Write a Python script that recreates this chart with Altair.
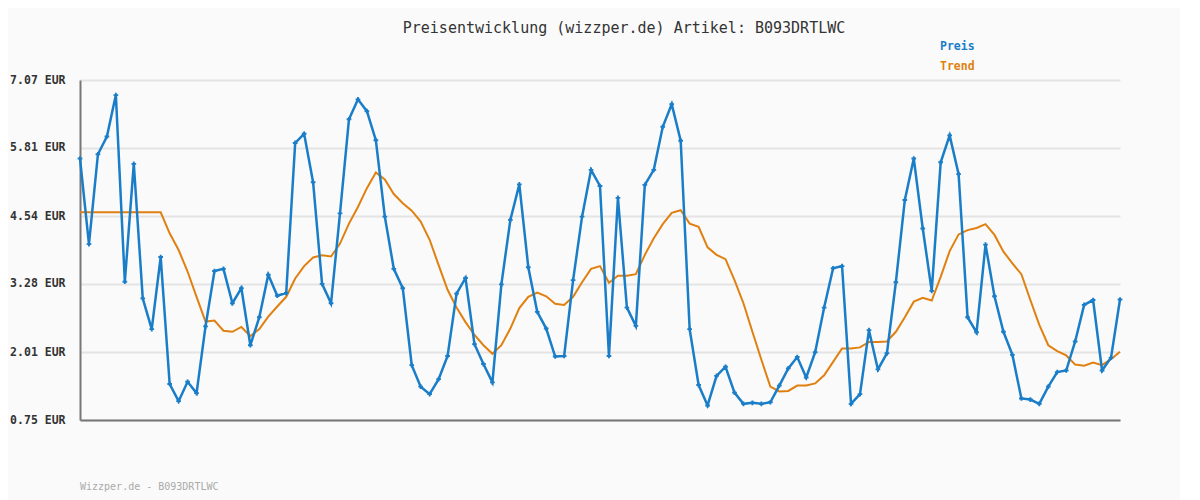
import altair as alt
import pandas as pd

preis = [5.61, 4.02, 5.69, 6.02, 6.79, 3.32, 5.51, 3.01, 2.44, 3.78,
         1.42, 1.10, 1.46, 1.25, 2.49, 3.52, 3.56, 2.92, 3.20, 2.14,
         2.66, 3.45, 3.06, 3.11, 5.90, 6.07, 5.17, 3.28, 2.92, 4.59,
         6.34, 6.71, 6.49, 5.95, 4.53, 3.56, 3.20, 1.77, 1.37, 1.23,
         1.51, 1.94, 3.10, 3.39, 2.16, 1.79, 1.45, 3.27, 4.47, 5.13,
         3.59, 2.76, 2.45, 1.93, 1.94, 3.35, 4.53, 5.40, 5.10, 1.94,
         4.88, 2.84, 2.50, 5.12, 5.40, 6.20, 6.62, 5.94, 2.44, 1.40,
         1.02, 1.57, 1.74, 1.26, 1.05, 1.07, 1.05, 1.08, 1.39, 1.71,
         1.92, 1.54, 2.01, 2.84, 3.57, 3.61, 1.05, 1.23, 2.42, 1.69,
         1.99, 3.31, 4.84, 5.61, 4.31, 3.15, 5.54, 6.04, 5.32, 2.66,
         2.38, 4.01, 3.05, 2.39, 1.96, 1.15, 1.13, 1.05, 1.37, 1.64,
         1.67, 2.21, 2.89, 2.98, 1.67, 1.91, 2.99]

trend = [4.61, 4.61, 4.61, 4.61, 4.61, 4.61, 4.61, 4.61, 4.61, 4.61,
         4.22, 3.91, 3.51, 3.04, 2.58, 2.60, 2.41, 2.39, 2.48, 2.31,
         2.44, 2.67, 2.86, 3.04, 3.38, 3.61, 3.77, 3.81, 3.79, 4.03,
         4.40, 4.71, 5.06, 5.35, 5.22, 4.95, 4.78, 4.64, 4.44, 4.10,
         3.63, 3.17, 2.84, 2.57, 2.33, 2.14, 1.98, 2.14, 2.45, 2.83,
         3.04, 3.12, 3.05, 2.91, 2.89, 3.04, 3.31, 3.56, 3.61, 3.30,
         3.43, 3.43, 3.46, 3.82, 4.13, 4.39, 4.60, 4.65, 4.40, 4.34,
         3.96, 3.82, 3.74, 3.35, 2.92, 2.39, 1.87, 1.37, 1.28, 1.29,
         1.39, 1.39, 1.43, 1.58, 1.83, 2.08, 2.08, 2.10, 2.20, 2.20,
         2.21, 2.39, 2.66, 2.95, 3.02, 2.97, 3.41, 3.89, 4.20, 4.28,
         4.32, 4.39, 4.19, 3.88, 3.66, 3.46, 2.98, 2.52, 2.14, 2.03,
         1.95, 1.78, 1.76, 1.82, 1.77, 1.88, 2.02]

y_ticks = [0.75, 2.01, 3.28, 4.54, 5.81, 7.07]
series_names = ["Preis", "Trend"]
series_colors = ["#1a7dc8", "#e08010"]
title_text = "Preisentwicklung (wizzper.de) Artikel: B093DRTLWC"
footer_text = "Wizzper.de - B093DRTLWC"

df = pd.DataFrame({"i": list(range(len(preis))), "preis": preis, "trend": trend})

FONT = "DejaVu Sans Mono"

xscale = alt.Scale(domain=[0, len(preis) - 1], nice=False, zero=False)
xaxis = alt.Axis(labels=False, ticks=False, grid=False, title=None,
                 domainColor="#777777", domainWidth=2)
yscale = alt.Scale(domain=[y_ticks[0], y_ticks[-1]], nice=False, zero=False)
yaxis = alt.Axis(values=y_ticks, labelExpr="format(datum.value, '.2f') + ' EUR'",
                 title=None, ticks=False, labelPadding=15, grid=True,
                 gridColor="#e4e4e4", gridWidth=2, domainColor="#777777",
                 domainWidth=2, labelFont=FONT, labelFontSize=11.5,
                 labelFontWeight="bold", labelColor="#333333")

x = alt.X("i:Q", scale=xscale, axis=xaxis)

base = alt.Chart(df)

trend_line = base.mark_line(color=series_colors[1], strokeWidth=2).encode(
    x=x, y=alt.Y("trend:Q", scale=yscale, axis=yaxis))

preis_line = base.mark_line(color=series_colors[0], strokeWidth=2.5).encode(
    x=x, y=alt.Y("preis:Q", scale=yscale, axis=yaxis))

preis_pts = base.mark_point(color=series_colors[0], shape="cross", filled=True,
                            size=22, opacity=1).encode(
    x=x, y=alt.Y("preis:Q", scale=yscale, axis=yaxis))

leg_df = pd.DataFrame({"name": series_names, "color": series_colors,
                       "py": [-33, -13]})
legend = alt.Chart(leg_df).mark_text(font=FONT, fontSize=11.5, fontWeight="bold",
                                     align="left", baseline="middle").encode(
    x=alt.value(860),
    y=alt.Y("py:Q", scale=None),
    text="name:N",
    color=alt.Color("color:N", scale=None),
)

title = alt.Chart(pd.DataFrame({"t": [title_text]})).mark_text(
    font=FONT, fontSize=15, color="#333333", align="center", baseline="middle").encode(
    x=alt.value(544), y=alt.value(-52), text="t:N")

foot = alt.Chart(pd.DataFrame({"t": [footer_text]})).mark_text(
    font=FONT, fontSize=10, color="#aaaaaa", align="left", baseline="middle").encode(
    x=alt.value(0), y=alt.value(407), text="t:N")

chart = alt.layer(trend_line, preis_line, preis_pts, legend, title, foot).properties(
    width=1040, height=340,
    autosize=alt.AutoSizeParams(type="none"),
    padding={"left": 72, "top": 72, "right": 60, "bottom": 80},
    background="#fafafa",
).configure_view(stroke=None)

chart.save("out.html", embed_options={"renderer": "svg", "actions": False})
